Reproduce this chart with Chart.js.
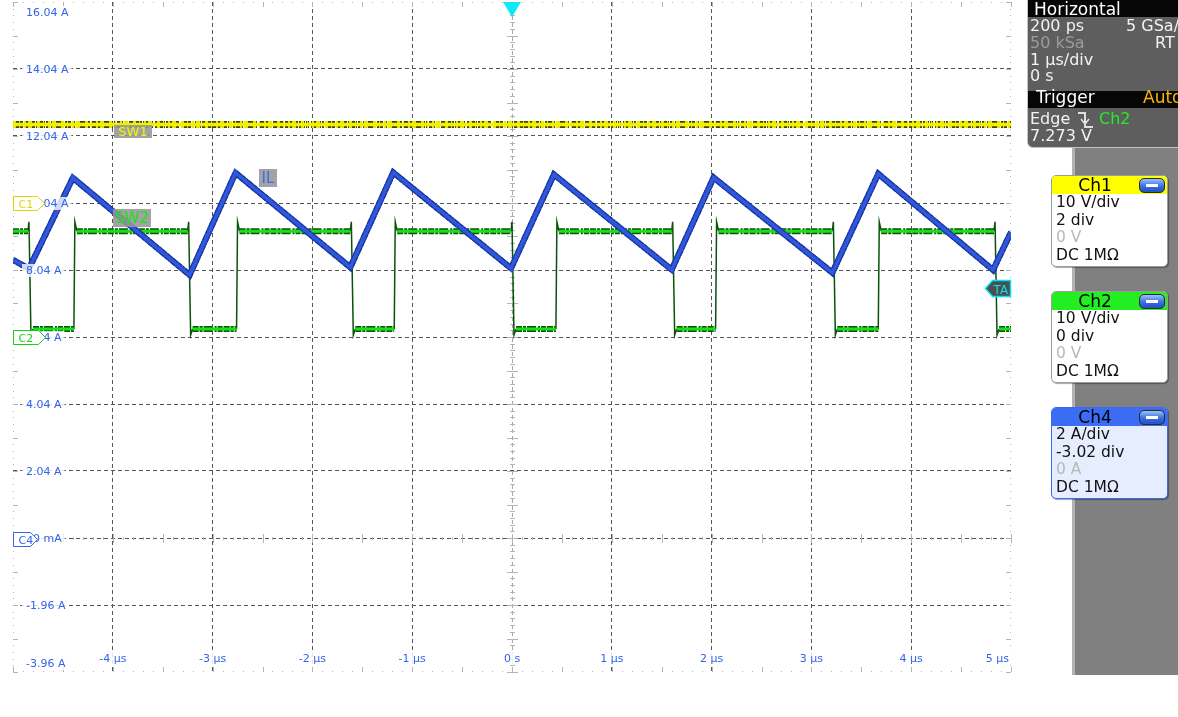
<!DOCTYPE html>
<html>
<head>
<meta charset="utf-8">
<title>Scope capture - SW1 / SW2 / IL</title>
<script src="https://cdn.jsdelivr.net/npm/chart.js@4.4.1/dist/chart.umd.min.js"></script>
<style>
  body { margin: 0; width: 1178px; height: 717px; overflow: hidden; position: relative; background: #fff; font-family: "DejaVu Sans", sans-serif; }
  #chart { position: absolute; left: 0; top: 0; }
  .abs { position: absolute; white-space: nowrap; }
  #hpanel { position: absolute; left: 1027px; top: 0; width: 170px; height: 147px; background: #5e5e5e;
            border-left: 1px solid #c4c4c4; border-bottom: 1px solid #c4c4c4; border-bottom-left-radius: 6px; overflow: hidden; }
  #hpanel .bar { position: absolute; left: 0; width: 100%; height: 17px; background: #060606; }
  #hpanel .t { position: absolute; font-size: 16px; line-height: 16px; color: #f2f2f2; white-space: nowrap; }
  #hpanel .h { position: absolute; font-size: 17px; line-height: 17px; color: #fff; white-space: nowrap; }
  #strip { position: absolute; left: 1072px; top: 148px; width: 103px; height: 527px; background: #808080; border-left: 3px solid #b2b2b2; }
  .chbox { position: absolute; left: 1051px; width: 115px; height: 90px; border: 1px solid #9c9c9c; border-radius: 5px;
           background: #fff; overflow: hidden; box-shadow: 1px 1px 1px rgba(0,0,0,0.35); }
  .chhead { position: absolute; left: 0; top: 0; width: 100%; height: 18px; }
  .chhead span { position: absolute; left: 0; width: 86px; text-align: center; font-size: 17px; line-height: 18px; color: #000; }
  .btn { position: absolute; right: 2px; top: 2px; width: 24px; height: 13px; border: 1px solid #2a2a2a; border-radius: 5px;
         background: linear-gradient(#9cc0ff, #3a6ee0 55%, #2250c0); }
  .btn::after { content: ""; position: absolute; left: 6px; top: 5px; width: 12px; height: 3px; background: #fff; }
  .rows { position: absolute; left: 4px; top: 18px; font-size: 15.5px; line-height: 17.5px; color: #111; }
  .rows .dim { color: #b8b8b8; }
</style>
</head>
<body>
<canvas id="chart" width="1178" height="717"></canvas>

<div id="hpanel">
  <div class="bar" style="top:0"></div>
  <div class="h" style="left:6px;top:1px">Horizontal</div>
  <div class="t" style="left:2px;top:18px">200 ps</div>
  <div class="t" style="left:98px;top:18px">5 GSa/s</div>
  <div class="t" style="left:2px;top:35px;color:#9c9c9c">50 kSa</div>
  <div class="t" style="left:127px;top:35px">RT</div>
  <div class="t" style="left:2px;top:52px">1 µs/div</div>
  <div class="t" style="left:2px;top:68px">0 s</div>
  <div class="bar" style="top:91px"></div>
  <div class="h" style="left:8px;top:89px">Trigger</div>
  <div class="h" style="left:115px;top:89px;color:#ffb400">Auto</div>
  <div class="t" style="left:2px;top:111px">Edge</div>
  <svg class="abs" style="left:48px;top:111px" width="20" height="18">
    <path d="M2 2 H9 V16 H17" fill="none" stroke="#e0e0e0" stroke-width="2"/>
    <path d="M5 8 L9 13 L13 8" fill="none" stroke="#e0e0e0" stroke-width="1.6"/>
  </svg>
  <div class="t" style="left:71px;top:111px;color:#22ee22">Ch2</div>
  <div class="t" style="left:2px;top:128px">7.273 V</div>
</div>

<div id="strip"></div>

<div class="chbox" style="top:175px">
  <div class="chhead" style="background:#ffff00"><span>Ch1</span></div>
  <div class="btn"></div>
  <div class="rows"><div>10 V/div</div><div>2 div</div><div class="dim">0 V</div><div>DC 1MΩ</div></div>
</div>
<div class="chbox" style="top:291px">
  <div class="chhead" style="background:#22ee22"><span>Ch2</span></div>
  <div class="btn"></div>
  <div class="rows"><div>10 V/div</div><div>0 div</div><div class="dim">0 V</div><div>DC 1MΩ</div></div>
</div>
<div class="chbox" style="top:407px;border-color:#3a6af0;background:#e6edff">
  <div class="chhead" style="background:#3a6cf4"><span>Ch4</span></div>
  <div class="btn"></div>
  <div class="rows"><div>2 A/div</div><div>-3.02 div</div><div class="dim">0 A</div><div>DC 1MΩ</div></div>
</div>

<script>
// graticule (10 divisions each way)
const timeTicks = [-5, -4, -3, -2, -1, 0, 1, 2, 3, 4, 5];
const timeLabels = ['', '-4 µs', '-3 µs', '-2 µs', '-1 µs', '0 s', '1 µs', '2 µs', '3 µs', '4 µs', '5 µs'];
const ampTicks = [-3.96, -1.96, 0.04, 2.04, 4.04, 6.04, 8.04, 10.04, 12.04, 14.04, 16.04];
const ampLabels = ['-3.96 A', '-1.96 A', '40 mA', '2.04 A', '4.04 A', '6.04 A', '8.04 A', '10.04 A', '12.04 A', '14.04 A', '16.04 A'];

// channel setup from the side panel
const ch1 = { voltsPerDiv: 10, offsetDiv: 2 };
const ch2 = { voltsPerDiv: 10, offsetDiv: 0 };
const ch4 = { ampsPerDiv: 2, offsetDiv: -3.02 };
const triggerVolts = 7.273;

// Ch4 - inductor current IL (A), corners of the triangle wave
const ilTime = [-5.0, -4.84, -4.40, -3.23, -2.77, -1.62, -1.19, -0.01, 0.42, 1.60, 2.02, 3.21, 3.67, 4.82, 5.0];
const ilAmps = [8.34, 8.08, 10.79, 7.89, 10.94, 8.12, 10.95, 8.09, 10.89, 8.05, 10.80, 7.96, 10.91, 8.04, 9.17];

// Ch2 - switch node SW2 (V): edge times in µs and levels
const sw2Fall = [-4.84, -3.24, -1.61, 0.00, 1.61, 3.22, 4.84];
const sw2Rise = [-4.39, -2.76, -1.18, 0.44, 2.04, 3.67];
const sw2High = 15.8;
const sw2Low = 1.2;
const sw2Spike = 17.2;
const sw2Dip = 0.3;

// Ch1 - SW1 (V), flat
const sw1Time = [-5, 5];
const sw1Volts = [11.7, 11.7];

// everything is shown on the Ch4 (amps) graticule
const screenCentre = -ch4.offsetDiv * ch4.ampsPerDiv;
function toScreen(ch, volts) {
  return screenCentre + ch4.ampsPerDiv * (volts / ch.voltsPerDiv + ch.offsetDiv);
}

const ilPoints = ilTime.map((t, i) => ({ x: t, y: ilAmps[i] }));
const sw1Points = sw1Time.map((t, i) => ({ x: t, y: toScreen(ch1, sw1Volts[i]) }));

const hi = toScreen(ch2, sw2High), lo = toScreen(ch2, sw2Low);
const spike = toScreen(ch2, sw2Spike), dip = toScreen(ch2, sw2Dip);
const sw2Points = [{ x: -5, y: hi }];
sw2Fall.forEach((tf, i) => {
  sw2Points.push({ x: tf - 0.01, y: hi }, { x: tf, y: spike }, { x: tf + 0.02, y: dip }, { x: tf + 0.04, y: lo });
  const tr = sw2Rise[i];
  if (tr !== undefined) {
    sw2Points.push({ x: tr, y: lo }, { x: tr + 0.01, y: spike }, { x: tr + 0.03, y: hi });
  }
});
sw2Points.push({ x: 5, y: lo });

const flat = c => c.p0.parsed.y === c.p1.parsed.y;
const BLUE_TXT = '#3264ee';

const scopeDecor = {
  id: 'scopeDecor',
  beforeDatasetsDraw(chart) {
    const { ctx, chartArea: a, scales: { x, y } } = chart;
    ctx.save();
    ctx.fillStyle = '#b4b4b4';
    // frame dots every 1/10 division, short bars on the half divisions
    for (let i = 0; i <= 100; i++) {
      const px = Math.round(x.getPixelForValue(-5 + i * 0.1));
      const len = i % 5 === 0 ? 5 : 1;
      ctx.fillRect(px, a.top, 1, len);
      ctx.fillRect(px, a.bottom - len, 1, len);
    }
    for (let i = 0; i <= 100; i++) {
      const py = Math.round(y.getPixelForValue(-3.96 + i * 0.2));
      const len = i % 5 === 0 ? 5 : 1;
      ctx.fillRect(a.left, py, len, 1);
      ctx.fillRect(a.right - len, py, len, 1);
    }
    // cross ticks on the centre axes
    const cx = Math.round(x.getPixelForValue(0));
    const cy = Math.round(y.getPixelForValue(0.04));
    for (let i = 0; i <= 100; i++) {
      const py = Math.round(y.getPixelForValue(-3.96 + i * 0.2));
      const w = i % 5 === 0 ? 11 : 5;
      ctx.fillRect(cx - (w - 1) / 2, py, w, 1);
      const px = Math.round(x.getPixelForValue(-5 + i * 0.1));
      const h = i % 5 === 0 ? 9 : 3;
      ctx.fillRect(px, cy - (h - 1) / 2, 1, h);
    }
    ctx.restore();
  },
  afterDatasetsDraw(chart) {
    const { ctx, chartArea: a, scales: { x, y } } = chart;
    ctx.save();
    ctx.font = '11px "DejaVu Sans"';
    ctx.textBaseline = 'alphabetic';

    // amplitude labels sit on their grid lines, inside the screen
    ampTicks.forEach((v, i) => {
      const py = y.getPixelForValue(v);
      let base = py + 4;
      if (i === ampTicks.length - 1) base = py + 14;
      if (i === 0) base = py - 5;
      const txt = ampLabels[i];
      const w = ctx.measureText(txt).width;
      ctx.fillStyle = 'rgba(255,255,255,0.78)';
      ctx.fillRect(a.left + 9, base - 10, w + 7, 13);
      ctx.fillStyle = BLUE_TXT;
      ctx.textAlign = 'left';
      ctx.fillText(txt, a.left + 13, base);
    });

    // time labels along the bottom
    timeTicks.forEach((t, i) => {
      const txt = timeLabels[i];
      if (!txt) return;
      const px = x.getPixelForValue(t);
      const w = ctx.measureText(txt).width;
      const base = a.bottom - 10;
      let left = px - w / 2;
      if (i === timeTicks.length - 1) left = a.right - 2 - w;
      ctx.fillStyle = 'rgba(255,255,255,0.85)';
      ctx.fillRect(left - 3, base - 10, w + 6, 13);
      ctx.fillStyle = BLUE_TXT;
      ctx.textAlign = 'left';
      ctx.fillText(txt, left, base);
    });

    // trace name tags
    function tag(txt, px, top, w, h, size, color) {
      ctx.fillStyle = 'rgba(150,150,150,0.88)';
      ctx.fillRect(px, top, w, h);
      ctx.font = size + 'px "DejaVu Sans"';
      ctx.fillStyle = color;
      ctx.textAlign = 'center';
      ctx.fillText(txt, px + w / 2, top + h - (h - size * 0.73) / 2);
    }
    tag('SW1', Math.round(x.getPixelForValue(-3.99)), Math.round(y.getPixelForValue(sw1Points[0].y)), 38, 13, 13, '#f4f400');
    tag('SW2', Math.round(x.getPixelForValue(-4.0)), Math.round(y.getPixelForValue(hi)) - 22, 38, 18, 15, '#14e814');
    tag('IL', Math.round(x.getPixelForValue(-2.54)), Math.round(y.getPixelForValue(10.8)) - 9, 18, 18, 15, '#3a6af6');

    // channel offset markers on the left edge
    function marker(txt, yv, len, color) {
      const py = Math.round(y.getPixelForValue(yv)) + 0.5;
      const l = a.left + 0.5;
      ctx.beginPath();
      ctx.moveTo(l, py - 7);
      ctx.lineTo(l + len - 7, py - 7);
      ctx.lineTo(l + len, py);
      ctx.lineTo(l + len - 7, py + 7);
      ctx.lineTo(l, py + 7);
      ctx.closePath();
      ctx.fillStyle = '#fff';
      ctx.fill();
      ctx.strokeStyle = color;
      ctx.lineWidth = 1;
      ctx.stroke();
      ctx.font = '11px "DejaVu Sans"';
      ctx.fillStyle = color;
      ctx.textAlign = 'left';
      ctx.fillText(txt, l + 5, py + 4);
    }
    marker('C1', toScreen(ch1, 0), 31, '#e2d400');
    marker('C2', toScreen(ch2, 0), 32, '#18d018');
    marker('C4', 0, 24, '#3264ee');

    // trigger level marker on the right edge
    const ty = Math.round(y.getPixelForValue(toScreen(ch2, triggerVolts))) + 0.5;
    const r = a.right - 0.5;
    ctx.beginPath();
    ctx.moveTo(r, ty - 8);
    ctx.lineTo(r - 18, ty - 8);
    ctx.lineTo(r - 25, ty);
    ctx.lineTo(r - 18, ty + 8);
    ctx.lineTo(r, ty + 8);
    ctx.closePath();
    ctx.fillStyle = '#4e4e4e';
    ctx.fill();
    ctx.strokeStyle = '#00e4f4';
    ctx.lineWidth = 1.5;
    ctx.stroke();
    ctx.font = '12px "DejaVu Sans"';
    ctx.fillStyle = '#00e4f4';
    ctx.textAlign = 'left';
    ctx.fillText('TA', r - 17, ty + 5);

    // trigger position triangle at the top
    const tx = x.getPixelForValue(0);
    ctx.beginPath();
    ctx.moveTo(tx - 9, a.top);
    ctx.lineTo(tx + 9, a.top);
    ctx.lineTo(tx, a.top + 15);
    ctx.closePath();
    ctx.fillStyle = '#10e8f4';
    ctx.fill();
    ctx.restore();
  }
};

const ctx = document.getElementById('chart').getContext('2d');
new Chart(ctx, {
  type: 'line',
  data: {
    datasets: [
      { data: ilPoints, borderColor: '#2f58dc', borderWidth: 3.5, order: 0 },
      { data: ilPoints, borderColor: '#1c3296', borderWidth: 6, borderDash: [4, 1, 2, 1, 6, 1], order: 1 },
      { data: ilPoints, borderColor: '#2a4ec8', borderWidth: 6, order: 2 },
      { data: sw2Points, borderColor: '#16e016', order: 3,
        segment: { borderWidth: c => flat(c) ? 3 : 0.01, borderColor: c => flat(c) ? '#16e016' : 'rgba(0,0,0,0)' } },
      { data: sw2Points, borderColor: '#0b520b', order: 4,
        segment: { borderWidth: c => flat(c) ? 6 : 1.5, borderDash: c => flat(c) ? [6, 1, 3, 1, 9, 2, 2, 1, 5, 1] : [] } },
      { data: sw1Points, borderColor: '#f2f200', borderWidth: 3.5, order: 5 },
      { data: sw1Points, borderColor: '#e4e400', borderWidth: 7, borderDash: [3, 3, 1, 4, 2, 2, 4, 5], order: 6 },
      { data: sw1Points, borderColor: '#444404', borderWidth: 7, borderDash: [6, 1, 3, 2, 10, 1, 2, 1], order: 7 }
    ]
  },
  options: {
    responsive: false,
    animation: false,
    events: [],
    parsing: true,
    layout: { padding: { left: 13, right: 167, top: 2, bottom: 45 } },
    elements: { point: { radius: 0 }, line: { tension: 0, fill: false, borderJoinStyle: 'miter' } },
    plugins: { legend: { display: false }, tooltip: { enabled: false } },
    scales: {
      x: {
        type: 'linear', min: -5, max: 5,
        afterBuildTicks: s => { s.ticks = timeTicks.map(v => ({ value: v })); },
        ticks: { display: false },
        grid: { drawTicks: false, lineWidth: 1,
          color: c => (c.tick.value === -5 || c.tick.value === 5) ? 'rgba(0,0,0,0)' : (c.tick.value === 0 ? '#a8a8a8' : '#555555') },
        border: { display: false, dash: [4, 3] }
      },
      y: {
        type: 'linear', min: -3.96, max: 16.04,
        afterBuildTicks: s => { s.ticks = ampTicks.map(v => ({ value: v })); },
        ticks: { display: false },
        grid: { drawTicks: false, lineWidth: 1,
          color: c => (c.tick.value === -3.96 || c.tick.value === 16.04) ? 'rgba(0,0,0,0)' : '#555555' },
        border: { display: false, dash: [4, 3] }
      }
    }
  },
  plugins: [scopeDecor]
});
</script>
</body>
</html>
